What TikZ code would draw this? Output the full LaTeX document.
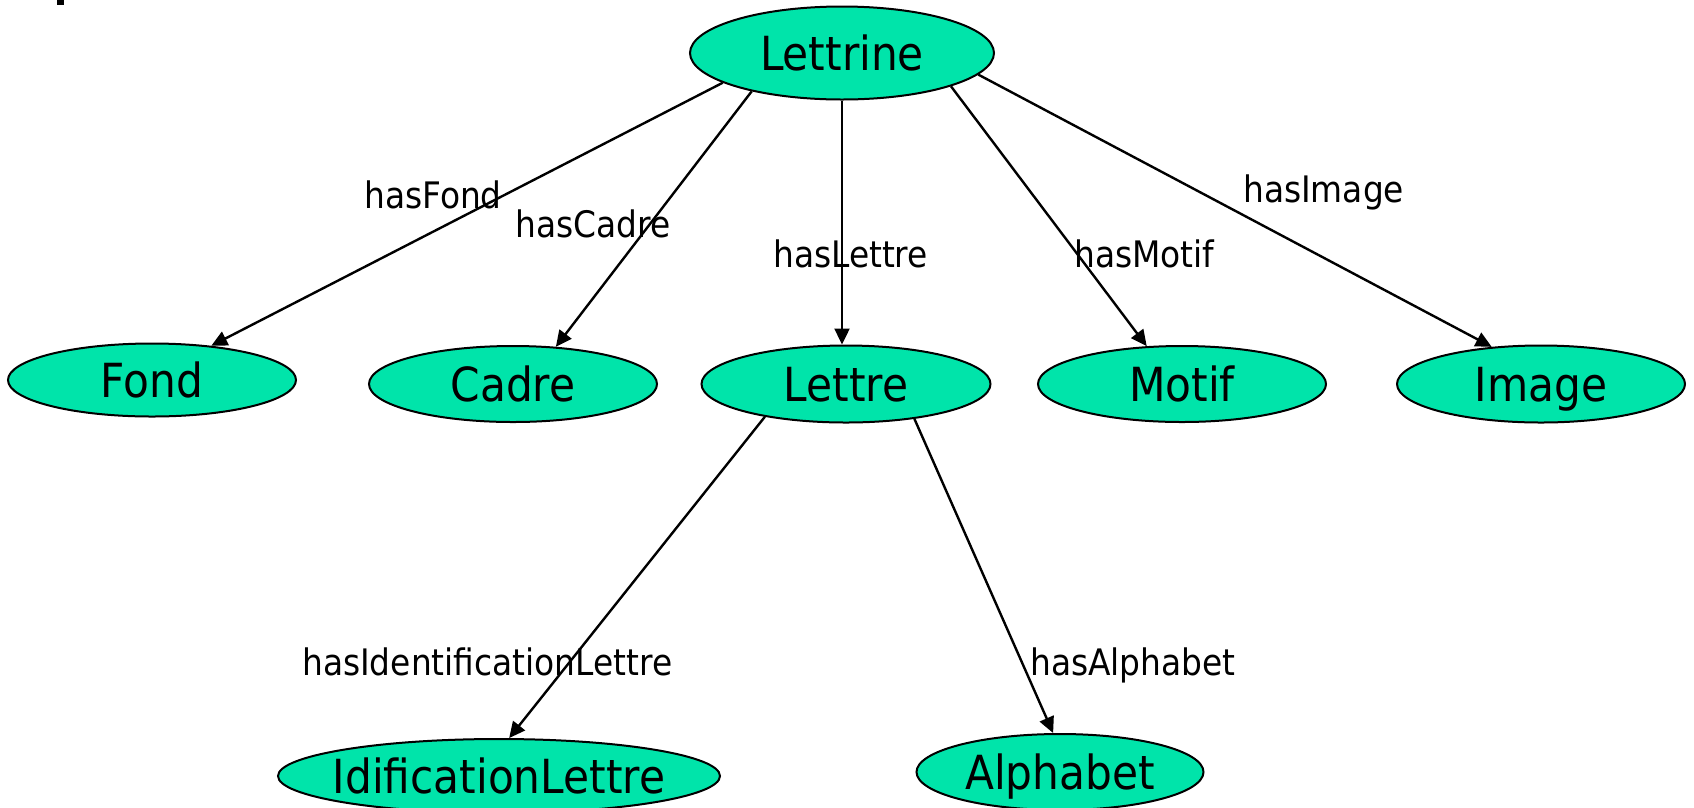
\documentclass[tikz,border=0pt]{standalone}
\usepackage{fontspec}
\setmainfont{DejaVu Sans}[FakeStretch=0.9]
\usetikzlibrary{shapes.geometric,arrows.meta}
\definecolor{nodegreen}{RGB}{0,228,170}
\newcommand{\tx}[1]{\makebox[0pt]{#1}}
\tikzset{
  concept/.style={ellipse, draw=black, line width=2pt, fill=nodegreen, inner sep=0pt,
    text height=35pt, text depth=0pt, font=\fontsize{47}{56}\selectfont},
  rel/.style={draw=black, line width=2.4pt, -{Triangle[length=16pt,width=15pt]}},
  rlabel/.style={anchor=base west, inner sep=0pt, font=\fontsize{36.5}{44}\selectfont}
}
\begin{document}
\begin{tikzpicture}[x=1pt,y=-1pt]
\useasboundingbox (0,0) rectangle (1694,807);
\clip (0,0) rectangle (1694,807);
\fill[black] (57,0) rectangle (64,5);
% nodes
\node[concept, minimum width=304pt, minimum height=93pt] (lettrine) at (842,53) {\tx{Lettrine}};
\node[concept, minimum width=288pt, minimum height=73pt] (fond) at (152,380) {\tx{Fond}};
\node[concept, minimum width=288pt, minimum height=76pt] (cadre) at (513,384) {\tx{Cadre}};
\node[concept, minimum width=289pt, minimum height=77pt] (lettre) at (846,384) {\tx{Lettre}};
\node[concept, minimum width=288pt, minimum height=76pt] (motif) at (1182,384) {\tx{Motif}};
\node[concept, minimum width=288pt, minimum height=77pt] (image) at (1541,384) {\tx{Image}};
\node[concept, minimum width=442pt, minimum height=74pt] (idif) at (499,776) {\tx{IdificationLettre}};
\node[concept, minimum width=287pt, minimum height=76pt] (alphabet) at (1060,772) {\tx{Alphabet}};
% connectors
\draw[rel] (lettrine.194.9) -- (fond.30);
\draw[rel] (lettrine.203.7) -- (cadre.41.5);
\draw[rel] (lettrine.south) -- (lettrine.south |- lettre.north);
\draw[rel] (lettrine.343) -- (motif.133.6);
\draw[rel] (lettrine.351.8) -- (image.143.3);
\draw[rel] (lettre.202.4) -- (idif.75.3);
\draw[rel] (lettre.333.8) -- (alphabet.100.4);
% labels
\node[rlabel] (lfond) at (364,208) {hasFond};
\node[rlabel] (lcadre) at (515,237) {hasCadre};
\node[rlabel] (llettre) at (773,267) {hasLettre};
\node[rlabel] (lmotif) at (1074,267) {hasMotif};
\node[rlabel] (limage) at (1243,202) {hasImage};
\node[rlabel] (lidif) at (302,675) {hasIdentificationLettre};
\node[rlabel] (lalpha) at (1030,675) {hasAlphabet};
\end{tikzpicture}
\end{document}
